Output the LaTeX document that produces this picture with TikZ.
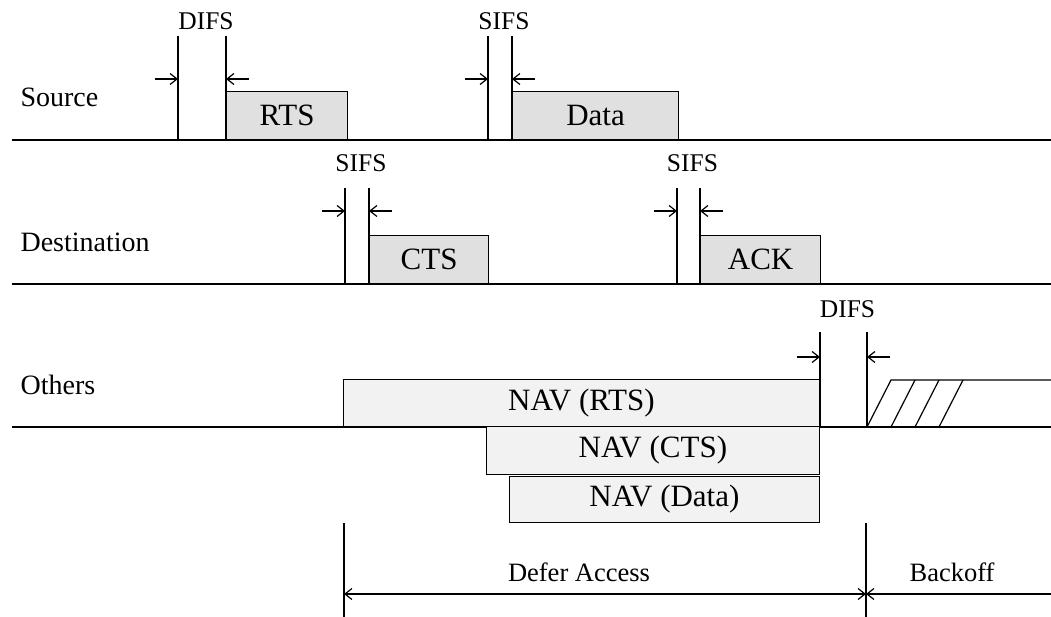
\documentclass[tikz,border=0pt]{standalone}
\usepackage{fontspec}
\setmainfont{Liberation Serif}
\usetikzlibrary{arrows.meta}

\begin{document}
\begin{tikzpicture}[x=1pt, y=-1pt, >={Straight Barb[length=7pt,width=11pt]}, line width=1.2pt]
      \useasboundingbox (0,0) rectangle (1051,617);
      \tikzstyle{pkt}=[draw, fill=gray!24, anchor=south west, inner sep=0pt, font=\fontsize{31}{31}\selectfont]
      \tikzstyle{nav}=[draw, fill=gray!10, anchor=south east, inner sep=0pt, font=\fontsize{31}{31}\selectfont]
      \tikzstyle{row}=[anchor=west, inner sep=0pt, font=\fontsize{28}{28}\selectfont]
      \tikzstyle{ifs}=[inner sep=0pt, font=\fontsize{25.5}{25.5}\selectfont]
      \tikzstyle{lbl}=[inner sep=0pt, font=\fontsize{26.5}{26.5}\selectfont]
      % draw rows

      \foreach \t/\y [count=\i] in {Source/97, Destination/242, Others/385}
      \node [row] (row-\i) at (20,\y) {\t};

      \foreach \y [count=\i] in {140,284,427}
      \draw [line width=1.6pt] (12,\y) coordinate (axis-\i) -- (1051,\y) coordinate (end-\i);

      % draw frames

      \node [pkt, minimum width=121pt, minimum height=48pt] (rts) at (226,140) {RTS};
      \node [pkt, minimum width=166pt, minimum height=48pt] (data) at (512,140) {Data};
      \node [pkt, minimum width=119pt, minimum height=48pt] (cts) at (369,284) {CTS};
      \node [pkt, minimum width=120pt, minimum height=48pt] (ack) at (700,284) {ACK};

      \node [nav, minimum width=476pt, minimum height=47pt] (nav-rts) at (820,427) {NAV (RTS)};
      \node [nav, minimum width=333pt, minimum height=48pt] (nav-cts) at (820,475) {NAV (CTS)};
      \node [nav, minimum width=310pt, minimum height=46pt] (nav-data) at (820,523) {NAV (Data)};

      % draw interframe spaces

      \foreach \n/\xa/\xb/\yt/\yb/\ya/\yl/\t in {difs1/178/226/36/140/79/21/DIFS, sifs1/488/512/36/140/79/21/SIFS, sifs2/345/369/188/284/211/163/SIFS, sifs3/677/700/188/284/211/163/SIFS, difs2/820/867/332/427/357/309/DIFS} {
          \coordinate (\n-a) at (\xa,\ya);
          \coordinate (\n-b) at (\xb,\ya);
          \draw (\xa,\yt) -- (\xa,\yb);
          \draw (\xb,\yt) -- (\xb,\yb);
          \draw [->] ([xshift=-23pt]\n-a) -- (\n-a);
          \draw [->] ([xshift=23pt]\n-b) -- (\n-b);
          \node [ifs] (\n) at ({(\xa+\xb)/2+4},\yl) {\t};};

      % draw backoff

      \draw (867,427) -- (891,380) -- (1051,380);
      \foreach \x in {891,915,939}
      \draw (\x,427) -- (\x+24,380);

      % draw text  

      \draw (344,523) -- (344,617);
      \draw (866,523) -- (866,617);
      \coordinate (defer-l) at (344,594);
      \coordinate (defer-r) at (866,594);
      \coordinate (backoff-r) at (1051,594);
      \node [lbl] (defer) at (579,572) {Defer Access};
      \node [lbl] (backoff) at (952,572) {Backoff};
      \draw [<->] (defer-l) -- (defer-r);
      \draw [<-] (defer-r) -- (backoff-r);

    \end{tikzpicture}
\end{document}
